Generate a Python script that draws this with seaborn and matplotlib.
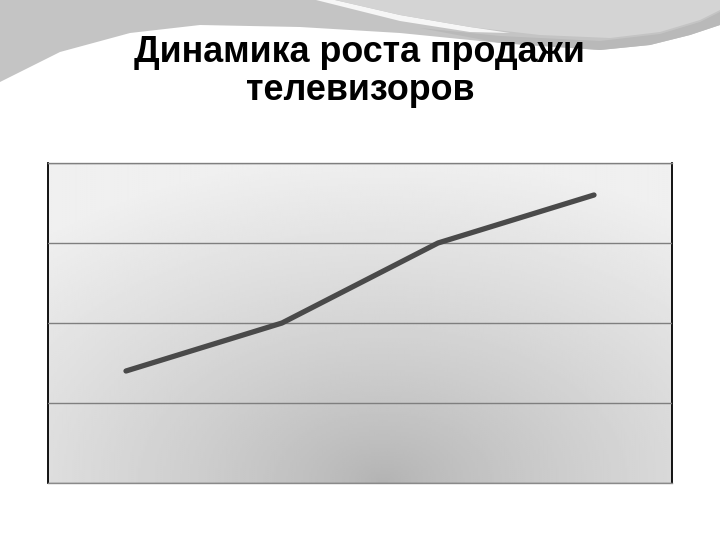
import numpy as np
import pandas as pd
import matplotlib
matplotlib.use("Agg")
import matplotlib.pyplot as plt
from matplotlib.patches import Polygon
import seaborn as sns

# ================= DATOS =================
periodos = ["1", "2", "3", "4"]
ventas = [14, 20, 30, 36]
y_ticks = [0, 10, 20, 30, 40]
titulo_1 = "Динамика роста продажи"
titulo_2 = "телевизоров"

df = pd.DataFrame({"periodo": periodos, "ventas": ventas})

sns.set_style("white")
plt.rcParams["font.family"] = ["Liberation Sans", "DejaVu Sans"]

fig = plt.figure(figsize=(7.2, 5.4), dpi=100)
fig.patch.set_facecolor("white")

# ---- decoración de la diapositiva (onda gris arriba) ----
bg = fig.add_axes([0, 0, 1, 1], zorder=-1)
bg.set_xlim(0, 720)
bg.set_ylim(540, 0)
bg.axis("off")

onda_media = [(0, 0), (720, 0), (720, 25), (690, 35), (650, 45), (600, 50),
              (500, 43), (400, 33), (300, 27), (200, 25),
              (130, 33), (60, 52), (0, 82)]
bg.add_patch(Polygon(onda_media, closed=True, color="#c4c4c4", lw=0))

onda_oscura = [(420, 28), (500, 36), (600, 41), (660, 34), (700, 22), (720, 12),
               (720, 25), (690, 35), (650, 45), (600, 50), (500, 43)]
bg.add_patch(Polygon(onda_oscura, closed=True, color="#b9b9b9", lw=0))

franja_blanca = [(316, 0), (335, 0), (400, 15), (470, 27), (510, 33),
                 (470, 32), (400, 21)]
bg.add_patch(Polygon(franja_blanca, closed=True, color="#f6f6f6", lw=0))

onda_clara = [(335, 0), (720, 0), (720, 10), (700, 20), (660, 32),
              (610, 38), (540, 35), (470, 27), (400, 15)]
bg.add_patch(Polygon(onda_clara, closed=True, color="#d4d4d4", lw=0))

fig.text(359 / 720, 1 - 62 / 540, titulo_1, ha="center", va="baseline",
         fontsize=25.8, fontweight="bold", color="black")
fig.text(360 / 720, 1 - 100 / 540, titulo_2, ha="center", va="baseline",
         fontsize=25.8, fontweight="bold", color="black")

# ---- gráfico ----
ax = fig.add_axes([48 / 720, 57 / 540, 624 / 720, 320 / 540])

# fondo con degradado radial
xx, yy = np.meshgrid(np.linspace(0, 624, 300), np.linspace(0, 320, 160))
r = np.sqrt(((xx - 335) / 520) ** 2 + ((yy - 0) / 330) ** 2)
gris = 0.70 + 0.24 * np.clip(r, 0, 1) ** 0.8
ax.imshow(gris, cmap="gray", vmin=0, vmax=1, extent=(-0.5, 3.5, 0, 40),
          origin="lower", aspect="auto", zorder=0, interpolation="bilinear")

sns.lineplot(data=df, x="periodo", y="ventas", ax=ax, color="#4a4a4a",
             linewidth=3.8, zorder=3, sort=False)

ax.set_xlim(-0.5, 3.5)
ax.set_ylim(0, 40)
ax.set_yticks(y_ticks)
ax.set_xticks([])
ax.set_yticklabels([])
ax.tick_params(left=False, bottom=False)
ax.set_xlabel("")
ax.set_ylabel("")
ax.grid(axis="y", color="#7f7f7f", linewidth=1.0, zorder=2)
ax.set_axisbelow(False)

for lado in ["top", "bottom"]:
    ax.spines[lado].set_color("#8a8a8a")
    ax.spines[lado].set_linewidth(1.0)
for lado in ["left", "right"]:
    ax.spines[lado].set_color("black")
    ax.spines[lado].set_linewidth(1.3)

fig.savefig("out.png", dpi=100)
